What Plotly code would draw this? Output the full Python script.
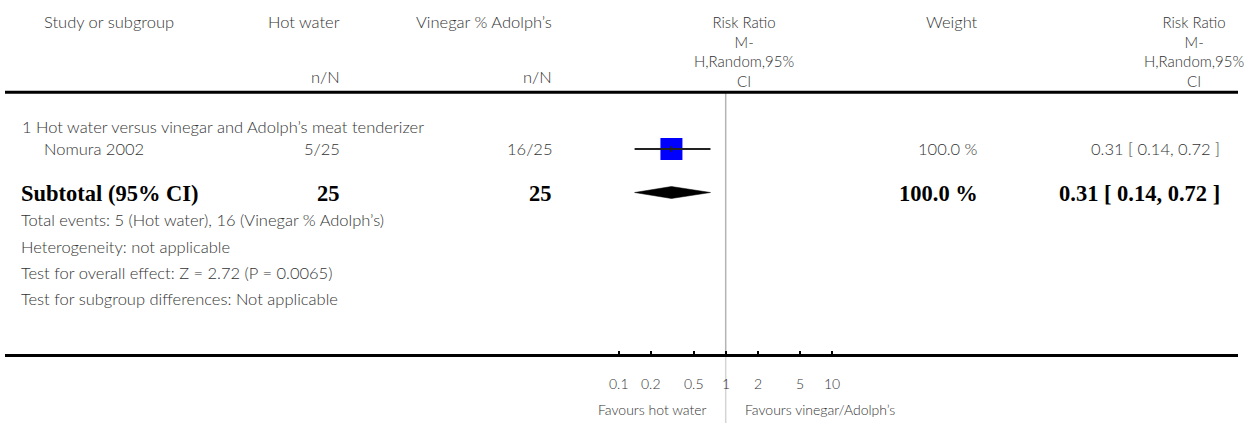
import plotly.graph_objects as go
import math

# ---- data ----
study = ["Nomura 2002"]
hot_events = [5]
hot_total = [25]
vin_events = [16]
vin_total = [25]
rr = [0.31]
ci_low = [0.14]
ci_high = [0.72]
weight = ["100.0 %"]
sub_rr = 0.31
sub_low = 0.14
sub_high = 0.72
sub_hot_total = 25
sub_vin_total = 25
tick_vals = [0.1, 0.2, 0.5, 1, 2, 5, 10]
tick_text = ["0.1", "0.2", "0.5", "1", "2", "5", "10"]

W, H = 1253, 423
PX_PER_DEC = 106.7
X_ONE = 725.7
x_lo = -X_ONE / PX_PER_DEC
x_hi = (W - X_ONE) / PX_PER_DEC

SANS = "Lato, 'Open Sans', sans-serif"
SERIF = "'Liberation Serif', 'DejaVu Serif', serif"
GREY = "#333333"
FS = 16.5
BFS = 22.5

fig = go.Figure()

# CI line and square
for i in range(len(study)):
    fig.add_trace(go.Scatter(x=[rr[i]], y=[149], mode="markers",
                             marker=dict(symbol="square", size=22, color="#0000ff",
                                         line=dict(width=0)),
                             hoverinfo="skip", showlegend=False))
    fig.add_trace(go.Scatter(x=[ci_low[i], ci_high[i]], y=[149, 149], mode="lines",
                             line=dict(color="#222222", width=2),
                             hoverinfo="skip", showlegend=False))
    fig.add_trace(go.Scatter(x=[rr[i], rr[i]], y=[146, 152], mode="lines",
                             line=dict(color="#222222", width=1.5),
                             hoverinfo="skip", showlegend=False))

# diamond
fig.add_trace(go.Scatter(x=[sub_low, sub_rr, sub_high, sub_rr, sub_low],
                         y=[192.5, 186.5, 192.5, 198.5, 192.5],
                         mode="lines", fill="toself", fillcolor="black",
                         line=dict(color="black", width=0.5),
                         hoverinfo="skip", showlegend=False))

# vertical null line
fig.add_shape(type="line", xref="x", yref="y", x0=1, x1=1, y0=93, y1=355,
              line=dict(color="#b4b4b4", width=1.5), layer="below")
fig.add_shape(type="line", xref="x", yref="y", x0=1, x1=1, y0=357, y1=423,
              line=dict(color="#d4d4d4", width=1.5), layer="below")
# horizontal rules
fig.add_shape(type="line", xref="paper", yref="y", x0=5 / W, x1=1238 / W, y0=92.3, y1=92.3,
              line=dict(color="black", width=3))
fig.add_shape(type="line", xref="paper", yref="y", x0=5 / W, x1=1238 / W, y0=355.5, y1=355.5,
              line=dict(color="black", width=3))


def txt(x, y, s, anchor="left", size=FS, font=SANS, bold=False, color=GREY, yanchor="middle",
        align=None):
    fig.add_annotation(x=x / W, y=y, xref="paper", yref="y", text=("<b>%s</b>" % s) if bold else s,
                       showarrow=False, xanchor=anchor, yanchor=yanchor,
                       align=align or anchor,
                       font=dict(family=font, size=size, color=color,
                                 weight=None if bold else 300))


# headers
txt(42, 22, "Study or subgroup")
txt(342, 22, "Hot water", "right")
txt(342, 77, "n/N", "right")
txt(554, 22, "Vinegar % Adolph’s", "right")
txt(554, 77, "n/N", "right")
rr_head = "Risk Ratio<br>M-<br>H,Random,95%<br>CI"
txt(744, 11, rr_head, "center", size=15, yanchor="top")
txt(980, 22, "Weight", "right")
txt(1194, 11, rr_head, "center", size=15, yanchor="top")

# subgroup
txt(20, 127, "1 Hot water versus vinegar and Adolph’s meat tenderizer")
for i in range(len(study)):
    txt(42, 149, study[i])
    txt(342, 149, "%d/%d" % (hot_events[i], hot_total[i]), "right")
    txt(554, 149, "%d/%d" % (vin_events[i], vin_total[i]), "right")
    txt(980, 149, weight[i], "right")
    txt(1222, 149, "%.2f [ %.2f, %.2f ]" % (rr[i], ci_low[i], ci_high[i]), "right")

txt(19, 193, "Subtotal (95% CI)", size=BFS, font=SERIF, bold=True, color="black")
txt(342, 193, str(sub_hot_total), "right", size=BFS, font=SERIF, bold=True, color="black")
txt(554, 193, str(sub_vin_total), "right", size=BFS, font=SERIF, bold=True, color="black")
txt(980, 193, "100.0 %", "right", size=BFS, font=SERIF, bold=True, color="black")
txt(1222, 193, "%.2f [ %.2f, %.2f ]" % (sub_rr, sub_low, sub_high), "right", size=BFS, font=SERIF,
    bold=True, color="black")

txt(19, 220, "Total events: %d (Hot water), %d (Vinegar %% Adolph’s)" % (sum(hot_events), sum(vin_events)))
txt(19, 247, "Heterogeneity: not applicable")
txt(19, 273, "Test for overall effect: Z = 2.72 (P = 0.0065)")
txt(19, 299, "Test for subgroup differences: Not applicable")

# axis tick labels and favours
for v, t in zip(tick_vals, tick_text):
    fig.add_annotation(x=math.log10(v), y=383, xref="x", yref="y", text=t, showarrow=False,
                       xanchor="center", yanchor="middle",
                       font=dict(family=SANS, size=14, color=GREY, weight=300))
fig.add_annotation(x=0, y=409, xref="x", yref="y", text="Favours hot water", showarrow=False,
                   xanchor="right", xshift=-17, yanchor="middle",
                   font=dict(family=SANS, size=14, color=GREY, weight=300))
fig.add_annotation(x=0, y=409, xref="x", yref="y", text="Favours vinegar/Adolph’s", showarrow=False,
                   xanchor="left", xshift=17, yanchor="middle",
                   font=dict(family=SANS, size=14, color=GREY, weight=300))

fig.update_xaxes(type="log", range=[x_lo, x_hi], domain=[0, 1],
                 tickvals=tick_vals, ticktext=[""] * len(tick_vals),
                 ticks="inside", ticklen=5, tickwidth=2, tickcolor="black",
                 showgrid=False, zeroline=False, showline=False,
                 anchor="free", position=1 - 355.5 / H, fixedrange=True)
fig.update_yaxes(range=[H, 0], domain=[0, 1], visible=False, fixedrange=True)

fig.update_layout(width=W, height=H, margin=dict(l=0, r=0, t=0, b=0),
                  paper_bgcolor="white", plot_bgcolor="white", showlegend=False)

fig.write_html("out.html", config={"displayModeBar": False},
               post_script="document.body.style.margin='0';")
